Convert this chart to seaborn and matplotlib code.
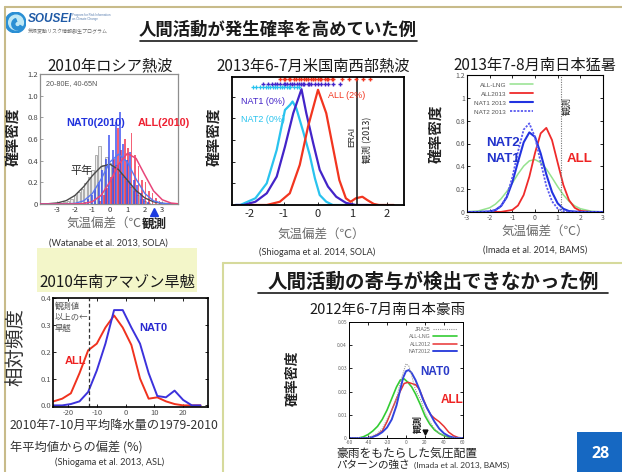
import matplotlib
matplotlib.use("Agg")
import numpy as np
import matplotlib.pyplot as plt
from matplotlib.lines import Line2D
from matplotlib.patches import Rectangle, Circle, Wedge
import seaborn as sns

sns.set_style("ticks")
plt.rcParams['font.family'] = ['Noto Sans CJK JP', 'DejaVu Sans']
plt.rcParams['axes.unicode_minus'] = False

# ---------------- data ----------------
# 2010 Russia heat wave: histograms (bin centres, density) and fitted curves
rus_bins = [-2.8, -2.6, -2.4, -2.2, -2.0, -1.8, -1.6, -1.4, -1.2, -1.0,
            -0.8, -0.6, -0.4, -0.2, 0.0, 0.2, 0.4, 0.6, 0.8, 1.0,
            1.2, 1.4, 1.6, 1.8, 2.0, 2.2, 2.4, 2.6, 2.8, 3.0]
rus_clim = [0.01, 0.02, 0.03, 0.05, 0.08, 0.11, 0.14, 0.19, 0.25, 0.31,
            0.45, 0.54, 0.36, 0.43, 0.38, 0.33, 0.36, 0.28, 0.25, 0.21,
            0.16, 0.12, 0.08, 0.05, 0.03, 0.01, 0.0, 0.0, 0.0, 0.0]
rus_nat0 = [0.0, 0.0, 0.0, 0.0, 0.0, 0.0, 0.0, 0.02, 0.05, 0.08,
            0.14, 0.20, 0.31, 0.42, 0.64, 0.50, 0.76, 0.85, 0.55, 0.41,
            0.48, 0.22, 0.18, 0.10, 0.05, 0.02, 0.0, 0.0, 0.0, 0.0]
rus_all = [0.0, 0.0, 0.0, 0.0, 0.0, 0.0, 0.0, 0.0, 0.0, 0.0,
           0.0, 0.03, 0.08, 0.15, 0.25, 0.42, 0.70, 0.50, 0.60, 0.52,
           0.66, 0.45, 0.35, 0.22, 0.20, 0.12, 0.10, 0.06, 0.03, 0.01]
rus_curve_x = [-4.0, -3.5, -3.0, -2.5, -2.0, -1.5, -1.0, -0.5, 0.0, 0.5,
               1.0, 1.5, 2.0, 2.5, 3.0, 3.5, 3.9]
rus_clim_curve = [0.0005, 0.003, 0.010, 0.031, 0.079, 0.160, 0.262, 0.345, 0.368, 0.317,
                  0.220, 0.124, 0.056, 0.020, 0.006, 0.0014, 0.0004]
rus_nat0_curve = [0.0, 0.0001, 0.0002, 0.0009, 0.006, 0.029, 0.097, 0.230, 0.387, 0.460,
                  0.387, 0.230, 0.097, 0.029, 0.006, 0.0009, 0.0002]
rus_all_curve = [0.0, 0.0, 0.0, 0.0001, 0.0006, 0.0044, 0.022, 0.080, 0.203, 0.366,
                 0.467, 0.421, 0.268, 0.121, 0.039, 0.0087, 0.002]
rus_obs = 2.5

# 2013 Jun-Jul US south-west heat wave
us_all_x = [-2.0, -1.49, -1.11, -0.82, -0.53, -0.29, 0.0, 0.24, 0.43, 0.62, 0.81,
            0.95, 1.10, 1.29, 1.43, 1.62, 1.77, 2.2]
us_all_y = [0.0, 0.0, 0.15, 0.54, 1.85, 3.61, 5.31, 4.23, 2.69, 1.15, 0.31,
            0.15, 0.31, 0.38, 0.23, 0.05, 0.0, 0.0]
us_nat1_x = [-2.4, -2.16, -1.82, -1.49, -1.20, -0.96, -0.72, -0.48, -0.34, -0.14,
             0.05, 0.29, 0.53, 0.81, 1.10, 1.5]
us_nat1_y = [0.0, 0.0, 0.15, 0.54, 1.31, 2.69, 4.23, 5.34, 4.23, 2.85,
             1.62, 0.85, 0.38, 0.10, 0.0, 0.0]
us_nat2_x = [-2.4, -2.26, -1.82, -1.49, -1.20, -0.96, -0.81, -0.74, -0.63, -0.43,
             -0.24, -0.09, 0.05, 0.24, 0.43, 1.0]
us_nat2_y = [0.0, 0.0, 0.31, 1.00, 2.54, 4.38, 4.62, 4.77, 4.46, 3.38,
             2.30, 1.23, 0.46, 0.15, 0.0, 0.0]
us_all_members = [-1.1, -1.0, -0.95, -0.85, -0.8, -0.7, -0.65, -0.55, -0.5, -0.4,
                  -0.35, -0.3, -0.2, -0.15, -0.1, 0.0, 0.05, 0.1, 0.2, 0.25,
                  0.3, 0.4, 0.45, 0.7, 0.9, 1.1, 1.3, 1.5]
us_nat1_members = [-1.6, -1.45, -1.35, -1.25, -1.2, -1.1, -1.0, -0.95, -0.9, -0.8,
                   -0.75, -0.7, -0.6, -0.55, -0.5, -0.45, -0.4, -0.3, -0.25, -0.2,
                   -0.1, 0.0, 0.1, 0.2, 0.3, 0.45, 0.65]
us_nat2_members = [-1.9, -1.8, -1.7, -1.6, -1.5, -1.45, -1.4, -1.3, -1.25, -1.2,
                   -1.1, -1.05, -1.0, -0.9, -0.85, -0.8, -0.7, -0.6, -0.55]
us_obs = 1.13

# 2013 Jul-Aug southern Japan heat
jp_lng_x = [-3.0, -2.5, -2.0, -1.75, -1.5, -1.25, -1.0, -0.75, -0.5, -0.25, 0.0,
            0.25, 0.5, 0.75, 1.0, 1.25, 1.5, 1.75, 2.0, 2.5, 3.0]
jp_lng_y = [0.002, 0.009, 0.037, 0.068, 0.115, 0.178, 0.253, 0.333, 0.402, 0.448, 0.459,
            0.433, 0.377, 0.301, 0.222, 0.151, 0.094, 0.054, 0.029, 0.006, 0.001]
jp_all_x = [-3.0, -1.5, -1.0, -0.75, -0.5, -0.25, 0.0, 0.25, 0.5, 0.75, 1.0,
            1.25, 1.5, 1.75, 2.0, 2.5, 3.0]
jp_all_y = [0.0, 0.001, 0.018, 0.057, 0.149, 0.309, 0.516, 0.689, 0.737, 0.630, 0.432,
            0.237, 0.104, 0.037, 0.010, 0.0006, 0.0]
jp_nat1_x = [-3.0, -2.5, -2.0, -1.75, -1.5, -1.25, -1.0, -0.75, -0.5, -0.25, 0.0,
             0.25, 0.5, 0.75, 1.0, 1.25, 1.5, 2.0, 3.0]
jp_nat1_y = [0.0, 0.0002, 0.0048, 0.017, 0.052, 0.128, 0.261, 0.439, 0.610, 0.697, 0.658,
             0.513, 0.329, 0.175, 0.076, 0.028, 0.008, 0.0004, 0.0]
jp_nat2_x = [-3.0, -2.0, -1.75, -1.5, -1.25, -1.0, -0.75, -0.5, -0.25, 0.0,
             0.25, 0.5, 0.75, 1.0, 1.25, 1.5, 2.0, 3.0]
jp_nat2_y = [0.0, 0.003, 0.014, 0.049, 0.137, 0.304, 0.529, 0.722, 0.776, 0.656,
             0.436, 0.228, 0.094, 0.030, 0.008, 0.0015, 0.0, 0.0]
jp_obs = 1.15

# 2010 southern Amazon drought (relative frequency)
amz_bins = [-25, -22, -19, -16, -13, -10, -7, -4, -1, 2, 5, 8, 11, 14, 17, 20, 23, 26]
amz_all = [0.015, 0.025, 0.045, 0.12, 0.205, 0.23, 0.29, 0.335, 0.29, 0.225,
           0.10, 0.025, 0.03, 0.015, 0.005, 0.0, 0.0, 0.0]
amz_nat0 = [0.0, 0.0, 0.005, 0.015, 0.05, 0.13, 0.23, 0.355, 0.355, 0.29,
            0.23, 0.12, 0.035, 0.03, 0.055, 0.02, 0.0, 0.0]
amz_obs = -12.7

# 2012 Jun-Jul southern Japan heavy rain (circulation pattern index)
rain_jra_x = [-60, -40, -30, -25, -20, -15, -10, -6, -3, 0, 3, 6, 9, 12, 16, 20, 25, 30, 35, 40, 45, 60]
rain_jra_y = [0.0, 0.0, 0.002, 0.004, 0.008, 0.012, 0.017, 0.024, 0.028, 0.032, 0.031, 0.027,
              0.022, 0.019, 0.016, 0.011, 0.007, 0.004, 0.002, 0.001, 0.0, 0.0]
rain_lng_x = [-60, -50, -45, -40, -35, -30, -25, -20, -15, -10, -6, -2, 2, 6, 10, 15, 20,
              25, 30, 35, 40, 45, 50, 60]
rain_lng_y = [0.0, 0.0, 0.0005, 0.0015, 0.003, 0.005, 0.008, 0.012, 0.017, 0.022, 0.025,
              0.0255, 0.024, 0.022, 0.019, 0.0145, 0.0095, 0.006, 0.0035, 0.002, 0.001,
              0.0003, 0.0, 0.0]
rain_all_x = [-60, -40, -35, -30, -25, -20, -15, -10, -5, -2, 2, 6, 10, 14, 18, 22, 26,
              30, 35, 40, 45, 50, 55, 60]
rain_all_y = [0.0, 0.0, 0.0005, 0.0015, 0.003, 0.007, 0.012, 0.017, 0.021, 0.0235, 0.024,
              0.0235, 0.023, 0.021, 0.017, 0.013, 0.010, 0.0085, 0.007, 0.005, 0.0025,
              0.001, 0.0002, 0.0]
rain_nat_x = [-60, -40, -35, -30, -25, -20, -15, -10, -6, -3, 0, 3, 6, 10, 14, 18, 22,
              26, 30, 35, 40, 45, 50, 55, 60]
rain_nat_y = [0.0, 0.0, 0.0005, 0.0012, 0.0025, 0.0045, 0.008, 0.014, 0.021, 0.026, 0.0288,
              0.0293, 0.028, 0.025, 0.021, 0.0165, 0.013, 0.010, 0.007, 0.004, 0.002,
              0.0008, 0.0002, 0.0, 0.0]
rain_obs = 20

# ---------------- figure helpers (pixel coordinates, origin top-left) ----------------
W, H = 622, 472
fig = plt.figure(figsize=(W / 100, H / 100), dpi=100)
fig.patch.set_facecolor('white')


def axes_px(l, t, r, b):
    return fig.add_axes([l / W, 1 - b / H, (r - l) / W, (b - t) / H])


def text_px(x, y, s, **kw):
    kw.setdefault('ha', 'center')
    kw.setdefault('va', 'center')
    return fig.text(x / W, 1 - y / H, s, **kw)


def line_px(xs, ys, **kw):
    fig.add_artist(Line2D([x / W for x in xs], [1 - y / H for y in ys], **kw))


def rect_px(l, t, r, b, **kw):
    fig.add_artist(Rectangle((l / W, 1 - b / H), (r - l) / W, (b - t) / H,
                             transform=fig.transFigure, **kw))


def style_axes(ax, spine_color='black', lw=1.0, labelsize=5.5, labelcolor='#444444',
               mirror=True):
    for s in ax.spines.values():
        s.set_color(spine_color)
        s.set_linewidth(lw)
        s.set_visible(True)
    ax.tick_params(direction='in', length=2.5, width=0.6, labelsize=labelsize,
                   labelcolor=labelcolor, color=spine_color, pad=1.5,
                   top=mirror, right=mirror)
    ax.set_xlabel('')
    ax.set_ylabel('')


CITE = ['Lato', 'DejaVu Sans']
BOLD_LATIN = ['Liberation Sans', 'DejaVu Sans']

# ---------------- slide frame ----------------
line_px([5, 622], [7, 7], color='#c8bb8a', lw=1.5)
line_px([5, 5], [7, 472], color='#c8bb8a', lw=1.5)
line_px([223, 622], [262.5, 262.5], color='#d6da9c', lw=1.5)
line_px([223, 223], [262.5, 472], color='#d6da9c', lw=1.5)
rect_px(37, 248, 197, 292, facecolor='#f3f6c9', edgecolor='none')
rect_px(577, 432, 622, 472, facecolor='#1668c2', edgecolor='none')
text_px(600, 454, '28', color='white', fontsize=11.5, fontweight='bold',
        family=['Open Sans', 'DejaVu Sans'])

# logo
lax = axes_px(5, 12, 26, 33)
lax.set_xlim(-1, 1)
lax.set_ylim(-1, 1)
lax.set_aspect('equal')
lax.axis('off')
lax.add_patch(Circle((0, 0), 0.98, color='#2a8fd4'))
lax.add_patch(Circle((0.05, 0.0), 0.7, color='#bfe8f5'))
lax.add_patch(Wedge((0.2, -0.15), 0.55, 110, 330, width=0.28, color='#2a8fd4'))
text_px(28, 18.5, 'SOUSEI', ha='left', color='#1f5aa6', fontsize=8.5, fontweight='bold',
        fontstyle='italic', family=BOLD_LATIN)
text_px(72, 17, 'Program for Risk Information\non Climate Change', ha='left', color='#5a7fb0',
        fontsize=2.2, linespacing=1.0, family=BOLD_LATIN)
text_px(28, 31, '気候変動リスク情報創生プログラム', ha='left', color='#6a6a6a', fontsize=3.6)

# headings
text_px(278, 30, '人間活動が発生確率を高めていた例', color='#1a1a1a', fontsize=12.5,
        fontweight='bold')
line_px([140, 417], [41, 41], color='#1a1a1a', lw=1.2)
text_px(433, 282, '人間活動の寄与が検出できなかった例', color='#1a1a1a', fontsize=14,
        fontweight='bold')
line_px([258, 608], [293, 293], color='#1a1a1a', lw=1.2)

# ---------------- panel 1: Russia ----------------
ax1 = axes_px(40, 74, 178, 204)
ax1.bar(rus_bins, rus_clim, width=0.16, color='#eeeeee', edgecolor='#a3a3a3',
        linewidth=0.6, zorder=1)
ax1.bar([b + 0.04 for b in rus_bins], rus_all, width=0.11, color='#f0203c', alpha=0.7,
        linewidth=0, zorder=2)
ax1.bar([b - 0.04 for b in rus_bins], rus_nat0, width=0.11, color='#2d44f0', alpha=0.7,
        linewidth=0, zorder=3)
sns.lineplot(x=rus_curve_x, y=rus_clim_curve, ax=ax1, color='#4a4a4a', lw=1.0, zorder=4)
sns.lineplot(x=rus_curve_x, y=rus_nat0_curve, ax=ax1, color='#5a78f0', lw=1.0, zorder=4)
sns.lineplot(x=rus_curve_x, y=rus_all_curve, ax=ax1, color='#e8467a', lw=1.1, zorder=4)
ax1.set_xlim(-4.0, 3.9)
ax1.set_ylim(0, 1.2)
ax1.set_xticks([-3, -2, -1, 0, 1, 2, 3])
ax1.set_yticks([0, 0.2, 0.4, 0.6, 0.8, 1.0, 1.2])
ax1.set_yticklabels(['0', '0.2', '0.4', '0.6', '0.8', '1.0', '1.2'])
style_axes(ax1, spine_color='#8e8e8e', lw=0.9, labelsize=5.5, mirror=False)
ax1.tick_params(axis='x', labelcolor='#333333')
ax1.plot([rus_obs], [-0.07], marker='^', color='#1c3ce0', ms=5.5, clip_on=False, zorder=6)
ax1.text(0.04, 0.95, '20-80E, 40-65N', transform=ax1.transAxes, ha='left', va='top',
         fontsize=5.2, color='#555555', family=BOLD_LATIN)
text_px(110, 66, '2010年ロシア熱波', fontsize=11, color='#1a1a1a')
text_px(96, 123, 'NAT0(2010)', fontsize=7.8, fontweight='bold', color='#2233dd',
        family=BOLD_LATIN)
text_px(164, 123, 'ALL(2010)', fontsize=7.8, fontweight='bold', color='#ee2233',
        family=BOLD_LATIN)
text_px(82, 171, '平年', fontsize=8, color='#2a2a2a')
text_px(13, 137, '確率密度', rotation=90, fontsize=10.5, fontweight='bold', color='#222222')
text_px(142, 224, '気温偏差（℃', ha='right', fontsize=9, color='#6a6a6a')
text_px(142, 224, '観測', ha='left', fontsize=9, fontweight='bold', color='#222222')
text_px(108, 243, '(Watanabe et al. 2013, SOLA)', fontsize=6.6, color='#333333', family=CITE)

# ---------------- panel 2: US south-west ----------------
ax2 = axes_px(232, 77, 404, 205)
sns.lineplot(x=us_nat2_x, y=us_nat2_y, ax=ax2, color='#29c3ee', lw=1.6)
sns.lineplot(x=us_nat1_x, y=us_nat1_y, ax=ax2, color='#4324c8', lw=1.6)
sns.lineplot(x=us_all_x, y=us_all_y, ax=ax2, color='#f2351f', lw=1.6)
ax2.axvline(us_obs, color='#111111', lw=1.1)
ax2.plot(us_all_members, [5.8] * len(us_all_members), ls='none', marker='+', ms=3.2,
         mew=1.0, color='#f2351f', clip_on=False)
ax2.plot(us_nat1_members, [5.6] * len(us_nat1_members), ls='none', marker='+', ms=3.2,
         mew=1.0, color='#4324c8', clip_on=False)
ax2.plot(us_nat2_members, [5.45] * len(us_nat2_members), ls='none', marker='+', ms=3.2,
         mew=0.9, color='#29c3ee', clip_on=False)
ax2.set_xlim(-2.5, 2.5)
ax2.set_ylim(0, 5.9)
ax2.set_xticks([-2, -1, 0, 1, 2])
ax2.set_yticks([0, 1, 2, 3, 4, 5])
ax2.set_yticklabels([])
style_axes(ax2, lw=1.3, labelsize=8, labelcolor='#222222', mirror=False)
ax2.tick_params(axis='x', pad=3)
text_px(313, 66, '2013年6-7月米国南西部熱波', fontsize=11, color='#1a1a1a')
text_px(263, 101, 'NAT1 (0%)', fontsize=6.5, color='#4324c8', family=BOLD_LATIN)
text_px(263, 120, 'NAT2 (0%)', fontsize=6.5, color='#29c3ee', family=BOLD_LATIN)
text_px(347, 96, 'ALL (2%)', fontsize=6.5, color='#f2351f', family=BOLD_LATIN)
text_px(352, 137, 'ERAI', rotation=90, fontsize=6.2, color='#222222', family=BOLD_LATIN)
text_px(366, 140, '観測 (2013)', rotation=90, fontsize=6.5, color='#222222')
text_px(214, 137, '確率密度', rotation=90, fontsize=10.5, fontweight='bold', color='#222222')
text_px(321, 235, '気温偏差（℃）', fontsize=9, color='#6a6a6a')
text_px(317, 252, '(Shiogama et al. 2014, SOLA)', fontsize=6.6, color='#333333', family=CITE)

# ---------------- panel 3: southern Japan heat ----------------
ax3 = axes_px(467, 75, 603, 212)
sns.lineplot(x=jp_lng_x, y=jp_lng_y, ax=ax3, color='#94e28e', lw=1.1, label='ALL-LNG')
sns.lineplot(x=jp_all_x, y=jp_all_y, ax=ax3, color='#ef2b2b', lw=1.3, label='ALL2013')
sns.lineplot(x=jp_nat1_x, y=jp_nat1_y, ax=ax3, color='#2233e0', lw=1.5, label='NAT1 2013')
sns.lineplot(x=jp_nat2_x, y=jp_nat2_y, ax=ax3, color='#5a5af0', lw=1.3, ls=(0, (1.2, 0.8)),
             label='NAT2 2013')
ax3.axvline(jp_obs, color='#777777', lw=0.8, ls=(0, (1, 1.2)))
ax3.set_xlim(-3, 3)
ax3.set_ylim(0, 1.2)
ax3.set_xticks([-3, -2, -1, 0, 1, 2, 3])
ax3.set_yticks([0, 0.2, 0.4, 0.6, 0.8, 1.0, 1.2])
ax3.set_yticklabels(['0', '0.2', '0.4', '0.6', '0.8', '1', '1.2'])
style_axes(ax3, lw=0.8, labelsize=5, labelcolor='#555555')
leg3 = ax3.legend(loc='upper left', bbox_to_anchor=(0.02, 0.98), frameon=False,
                  markerfirst=False, handlelength=3.6, labelspacing=0.55,
                  borderpad=0.2, handletextpad=0.6, prop={'family': BOLD_LATIN, 'size': 4.6})
for t in leg3.get_texts():
    t.set_color('#555555')
text_px(535, 65, '2013年7-8月南日本猛暑', fontsize=11, color='#1a1a1a')
text_px(567, 106, '観測', rotation=90, fontsize=6.5, color='#222222')
text_px(503, 143, 'NAT2', fontsize=9.5, fontweight='bold', color='#2233cc', family=BOLD_LATIN)
text_px(503, 159, 'NAT1', fontsize=9.5, fontweight='bold', color='#2233cc', family=BOLD_LATIN)
text_px(580, 159, 'ALL', fontsize=9.5, fontweight='bold', color='#ee2222', family=BOLD_LATIN)
text_px(436, 134, '確率密度', rotation=90, fontsize=10.5, fontweight='bold', color='#222222')
text_px(545, 232, '気温偏差（℃）', fontsize=9, color='#6a6a6a')
text_px(535, 250, '(Imada et al. 2014, BAMS)', fontsize=6.6, color='#333333', family=CITE)

# ---------------- panel 4: Amazon drought ----------------
ax4 = axes_px(53, 298, 208, 407)
sns.lineplot(x=amz_bins, y=amz_all, ax=ax4, color='#f0321e', lw=1.4)
sns.lineplot(x=amz_bins, y=amz_nat0, ax=ax4, color='#3c32dc', lw=1.4)
ax4.axvline(amz_obs, color='#333333', lw=0.9, ls=(0, (3, 2)))
ax4.set_xlim(-25.2, 28.6)
ax4.set_ylim(-0.006, 0.4)
ax4.set_xticks([-20, -10, 0, 10, 20])
ax4.set_yticks([0.0, 0.1, 0.2, 0.3, 0.4])
ax4.set_yticklabels(['0.0', '0.1', '0.2', '0.3', '0.4'])
style_axes(ax4, lw=1.2, labelsize=5.5, labelcolor='#555555')
ax4.text(-24.5, 0.385, '観測値\n以上の←\n旱魃', ha='left', va='top', fontsize=6,
         color='#555555', linespacing=1.25)
text_px(117, 282, '2010年南アマゾン旱魃', fontsize=11, color='#1a1a1a')
text_px(75, 361, 'ALL', fontsize=8, fontweight='bold', color='#ee2222', family=BOLD_LATIN)
text_px(153, 328, 'NAT0', fontsize=8, fontweight='bold', color='#2a2ad0', family=BOLD_LATIN)
text_px(16, 347, '相対頻度', rotation=90, fontsize=14, color='#333333')
text_px(10, 425, '2010年7-10月平均降水量の1979-2010', ha='left', fontsize=8.8, color='#333333')
text_px(10, 448, '年平均値からの偏差 (%)', ha='left', fontsize=8.8, color='#333333')
text_px(110, 462, '(Shiogama et al. 2013, ASL)', fontsize=6.6, color='#333333', family=CITE)

# ---------------- panel 5: heavy rain ----------------
ax5 = axes_px(349, 322, 463, 438)
sns.lineplot(x=rain_lng_x, y=rain_lng_y, ax=ax5, color='#33cc33', lw=1.2, label='ALL-LNG')
sns.lineplot(x=rain_all_x, y=rain_all_y, ax=ax5, color='#e83333', lw=1.1, label='ALL2012')
sns.lineplot(x=rain_nat_x, y=rain_nat_y, ax=ax5, color='#3344dd', lw=1.4, label='NAT2012')
sns.lineplot(x=rain_jra_x, y=rain_jra_y, ax=ax5, color='#999999', lw=0.8, ls=(0, (1, 1)),
             label='JRA25')
ax5.plot([rain_obs], [0.0025], marker='v', color='#111111', ms=3.5, ls='none')
ax5.set_xlim(-60, 60)
ax5.set_ylim(0, 0.05)
ax5.set_xticks([-60, -40, -20, 0, 20, 40, 60])
ax5.set_yticks([0, 0.01, 0.02, 0.03, 0.04, 0.05])
ax5.set_yticklabels(['0', '0.01', '0.02', '0.03', '0.04', '0.05'])
style_axes(ax5, lw=0.7, labelsize=3.6, labelcolor='#666666')
h, l = ax5.get_legend_handles_labels()
order = [3, 0, 1, 2]
leg5 = ax5.legend([h[i] for i in order], [l[i] for i in order], loc='upper right',
                  bbox_to_anchor=(0.98, 0.99), frameon=False, markerfirst=False,
                  handlelength=4.5, labelspacing=0.45, borderpad=0.2, handletextpad=0.5,
                  prop={'family': BOLD_LATIN, 'size': 3.8})
for t in leg5.get_texts():
    t.set_color('#666666')
text_px(388, 310, '2012年6-7月南日本豪雨', fontsize=10.5, color='#1a1a1a')
text_px(435, 372, 'NAT0', fontsize=8.5, fontweight='bold', color='#2a3ac8', family=BOLD_LATIN)
text_px(452, 400, 'ALL', fontsize=8.5, fontweight='bold', color='#ee2222', family=BOLD_LATIN)
text_px(418, 424, '観測', rotation=90, fontsize=6.5, fontweight='bold', color='#222222')
text_px(293, 378, '確率密度', rotation=90, fontsize=10, fontweight='bold', color='#222222')
text_px(336, 453, '豪雨をもたらした気圧配置', ha='left', fontsize=8.5, color='#222222')
text_px(336, 465, 'パターンの強さ', ha='left', fontsize=7.6, color='#222222')
text_px(414, 465, '(Imada et al. 2013, BAMS)', ha='left', fontsize=6.0, color='#333333',
        family=CITE)

fig.savefig('out.png', dpi=100)
